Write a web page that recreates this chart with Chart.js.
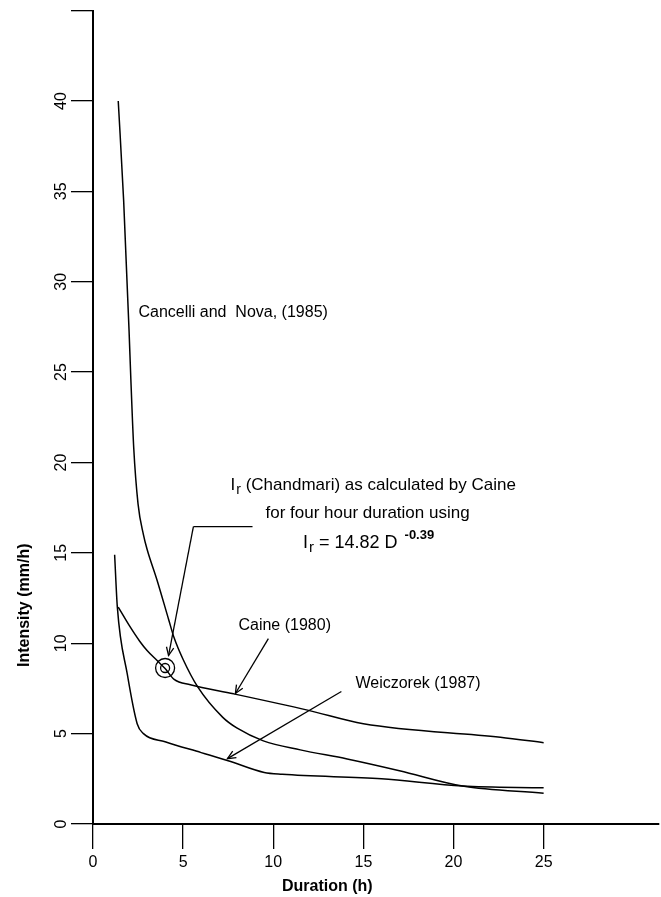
<!DOCTYPE html>
<html>
<head>
<meta charset="utf-8">
<script src="https://cdn.jsdelivr.net/npm/chart.js@4.4.1/dist/chart.umd.min.js"></script>
<style>
    html, body { margin: 0; padding: 0; background: #fff; }
    #wrap { width: 661px; height: 897px; position: relative; }
</style>
</head>
<body>
<div id="wrap"><canvas id="chartIdf"></canvas></div>
<script>
// Rainfall intensity / duration thresholds

// Cancelli and Nova (1985)
const cancelliX = [1.4, 1.7, 2.0, 2.1, 2.26, 2.5, 2.8, 3.0, 3.55, 4.2, 4.5, 5.0, 5.8, 7.2, 8.0, 9.45, 11.5, 14.1, 17, 20.5, 25];
const cancelliY = [40, 34.5, 27.3, 24.6, 20.8, 17.7, 16.0, 15.2, 13.5, 11.3, 10.3, 9.1, 7.6, 5.9, 5.3, 4.6, 4.1, 3.6, 2.95, 2.1, 1.7];

// Caine (1980)
const caineX = [1.4, 2.0, 2.6, 3.0, 3.6, 4.0, 4.5, 5.4, 7.8, 11.9, 15, 22.6, 25];
const caineY = [12.0, 11.0, 10.1, 9.6, 9.0, 8.6, 8.0, 7.7, 7.2, 6.3, 5.55, 4.8, 4.5];

// Weiczorek (1987)
const weiczorekX = [1.2, 1.35, 1.9, 2.45, 2.8, 4.0, 6.0, 7.5, 9.5, 10.5, 16, 20.5, 25];
const weiczorekY = [14.9, 12.0, 8.3, 5.55, 5.0, 4.55, 3.95, 3.5, 2.85, 2.75, 2.5, 2.1, 2.0];

// Chandmari point, four hour duration
const chandmariX = 4.0;
const chandmariY = 8.63;

const xTicks = [0, 5, 10, 15, 20, 25];
const yTicks = [0, 5, 10, 15, 20, 25, 30, 35, 40, 45];
const yTickLabels = ["0", "5", "10", "15", "20", "25", "30", "35", "40", ""];

const FONT = "'Liberation Sans', Arial, sans-serif";

toPoints = (xs, ys) => xs.map((v, i) => ({ x: v, y: ys[i] }));

lineSet = (label, xs, ys) => ({
    label: label,
    data: toPoints(xs, ys),
    borderColor: "#000",
    borderWidth: 1.5,
    pointRadius: 0,
    fill: false,
    cubicInterpolationMode: "monotone",
});

// arrow with open head, from (x1,y1) to tip (x2,y2), pixels
drawArrow = (ctx, x1, y1, x2, y2) => {
    ctx.beginPath();
    ctx.moveTo(x1, y1);
    ctx.lineTo(x2, y2);
    ctx.stroke();
    const a = Math.atan2(y2 - y1, x2 - x1);
    const len = 9, spread = 0.42;
    ctx.beginPath();
    ctx.moveTo(x2 - len * Math.cos(a - spread), y2 - len * Math.sin(a - spread));
    ctx.lineTo(x2, y2);
    ctx.lineTo(x2 - len * Math.cos(a + spread), y2 - len * Math.sin(a + spread));
    ctx.stroke();
};

// "I" with subscript r, returns x after it
drawIr = (ctx, tx, ty, size) => {
    ctx.font = size + "px " + FONT;
    ctx.fillText("I", tx, ty);
    tx += ctx.measureText("I").width + 1;
    ctx.font = (size - 3) + "px " + FONT;
    ctx.fillText("r", tx, ty + 5);
    tx += ctx.measureText("r").width;
    ctx.font = size + "px " + FONT;
    return tx;
};

const notes = {
    id: "notes",
    afterDraw(chart) {
        const { ctx, scales: { x, y } } = chart;
        const px = (v) => x.getPixelForValue(v);
        const py = (v) => y.getPixelForValue(v);
        ctx.save();
        ctx.fillStyle = "#000";
        ctx.strokeStyle = "#000";
        ctx.lineWidth = 1.3;
        ctx.textBaseline = "middle";
        ctx.textAlign = "left";

        ctx.font = "16px " + FONT;
        ctx.fillText("Cancelli and  Nova, (1985)", px(2.52), py(28.3));
        ctx.fillText("Caine (1980)", px(8.07), py(10.98));
        ctx.fillText("Weiczorek (1987)", px(14.56), py(7.77));

        // I_r note
        let tx = drawIr(ctx, px(7.63), py(18.72), 17);
        ctx.fillText(" (Chandmari) as calculated by Caine", tx, py(18.72));

        ctx.fillText("for four hour duration using", px(9.57), py(17.17));

        tx = drawIr(ctx, px(11.65), py(15.57), 18);
        ctx.fillText(" = 14.82 D", tx, py(15.57));
        tx += ctx.measureText(" = 14.82 D").width + 7;
        ctx.font = "bold 13px " + FONT;
        ctx.fillText("-0.39", tx, py(15.57) - 7);

        // leader to the circled point
        ctx.beginPath();
        ctx.moveTo(px(8.85), py(16.45));
        ctx.lineTo(px(5.57), py(16.45));
        ctx.stroke();
        drawArrow(ctx, px(5.57), py(16.45), px(4.19), py(9.32));
        drawArrow(ctx, px(9.73), py(10.26), px(7.9), py(7.22));
        drawArrow(ctx, px(13.78), py(7.33), px(7.46), py(3.62));

        // bullseye
        ctx.beginPath();
        ctx.arc(px(chandmariX), py(chandmariY), 9.5, 0, Math.PI * 2);
        ctx.stroke();
        ctx.beginPath();
        ctx.arc(px(chandmariX), py(chandmariY), 4.5, 0, Math.PI * 2);
        ctx.stroke();

        // axis titles
        ctx.font = "bold 16px " + FONT;
        ctx.textAlign = "center";
        ctx.fillText("Duration (h)", px(13.0), 887);
        ctx.translate(x.left - 68, py(12.1));
        ctx.rotate(-Math.PI / 2);
        ctx.fillText("Intensity (mm/h)", 0, 0);
        ctx.restore();
    },
};

setupChart = () => {
    const config = {
        type: "line",
        data: {
            datasets: [
                lineSet("Cancelli and Nova, (1985)", cancelliX, cancelliY),
                lineSet("Caine (1980)", caineX, caineY),
                lineSet("Weiczorek (1987)", weiczorekX, weiczorekY),
            ],
        },
        options: {
            responsive: true,
            maintainAspectRatio: false,
            animation: false,
            layout: { padding: { left: 0, top: 10, right: 2, bottom: 0 } },
            plugins: {
                legend: { display: false },
                tooltip: { enabled: false },
            },
            scales: {
                x: {
                    type: "linear",
                    min: 0,
                    max: 31.4,
                    afterBuildTicks: (s) => { s.ticks = xTicks.map((v) => ({ value: v })); },
                    afterFit: (s) => { s.height = 73; },
                    grid: { drawOnChartArea: false, tickLength: 25, color: "#000", lineWidth: 1.3 },
                    border: { color: "#000", width: 2 },
                    ticks: { color: "#000", font: { family: FONT, size: 16 }, padding: 4, maxRotation: 0 },
                },
                y: {
                    type: "linear",
                    min: 0,
                    max: 45,
                    afterBuildTicks: (s) => { s.ticks = yTicks.map((v) => ({ value: v })); },
                    afterFit: (s) => { s.width = 93; },
                    grid: { drawOnChartArea: false, tickLength: 22, color: "#000", lineWidth: 1.3 },
                    border: { color: "#000", width: 2 },
                    ticks: {
                        color: "#000",
                        font: { family: FONT, size: 16 },
                        minRotation: 90,
                        maxRotation: 90,
                        crossAlign: "center",
                        padding: 1,
                        callback: (v, i) => yTickLabels[i],
                    },
                },
            },
        },
        plugins: [notes],
    };

    let ctx = document.getElementById("chartIdf");
    let idfChart = new Chart(ctx, config);
};

setupChart();
</script>
</body>
</html>
